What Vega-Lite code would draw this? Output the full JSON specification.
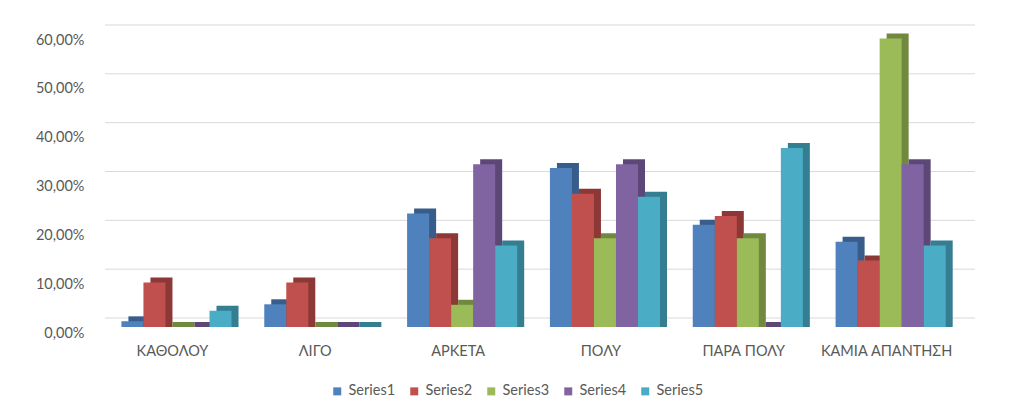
{
  "$schema": "https://vega.github.io/schema/vega-lite/v6.json",
  "width": 857,
  "height": 293,
  "autosize": {"type": "none"},
  "padding": {"left": 105, "top": 34, "right": 62, "bottom": 93},
  "background": "white",
  "config": {
    "view": {"stroke": null},
    "font": "Lato",
    "axis": {"labelFont": "Lato", "labelColor": "#595959", "labelFontSize": 14.5},
    "legend": {"labelFont": "Lato", "labelColor": "#595959", "labelFontSize": 14.5}
  },
  "datasets": {
    "bars": [
      {"cat": "ΚΑΘΟΛΟΥ", "series": "Series1", "v": 0.0116},
      {"cat": "ΛΙΓΟ", "series": "Series1", "v": 0.0465},
      {"cat": "ΑΡΚΕΤΑ", "series": "Series1", "v": 0.2326},
      {"cat": "ΠΟΛΥ", "series": "Series1", "v": 0.3256},
      {"cat": "ΠΑΡΑ ΠΟΛΥ", "series": "Series1", "v": 0.2093},
      {"cat": "ΚΑΜΙΑ ΑΠΑΝΤΗΣΗ", "series": "Series1", "v": 0.1744},
      {"cat": "ΚΑΘΟΛΟΥ", "series": "Series2", "v": 0.0909},
      {"cat": "ΛΙΓΟ", "series": "Series2", "v": 0.0909},
      {"cat": "ΑΡΚΕΤΑ", "series": "Series2", "v": 0.1818},
      {"cat": "ΠΟΛΥ", "series": "Series2", "v": 0.2727},
      {"cat": "ΠΑΡΑ ΠΟΛΥ", "series": "Series2", "v": 0.2273},
      {"cat": "ΚΑΜΙΑ ΑΠΑΝΤΗΣΗ", "series": "Series2", "v": 0.1364},
      {"cat": "ΚΑΘΟΛΟΥ", "series": "Series3", "v": 0},
      {"cat": "ΛΙΓΟ", "series": "Series3", "v": 0},
      {"cat": "ΑΡΚΕΤΑ", "series": "Series3", "v": 0.0455},
      {"cat": "ΠΟΛΥ", "series": "Series3", "v": 0.1818},
      {"cat": "ΠΑΡΑ ΠΟΛΥ", "series": "Series3", "v": 0.1818},
      {"cat": "ΚΑΜΙΑ ΑΠΑΝΤΗΣΗ", "series": "Series3", "v": 0.5909},
      {"cat": "ΚΑΘΟΛΟΥ", "series": "Series4", "v": 0},
      {"cat": "ΛΙΓΟ", "series": "Series4", "v": 0},
      {"cat": "ΑΡΚΕΤΑ", "series": "Series4", "v": 0.3333},
      {"cat": "ΠΟΛΥ", "series": "Series4", "v": 0.3333},
      {"cat": "ΠΑΡΑ ΠΟΛΥ", "series": "Series4", "v": 0},
      {"cat": "ΚΑΜΙΑ ΑΠΑΝΤΗΣΗ", "series": "Series4", "v": 0.3333},
      {"cat": "ΚΑΘΟΛΟΥ", "series": "Series5", "v": 0.0333},
      {"cat": "ΛΙΓΟ", "series": "Series5", "v": 0},
      {"cat": "ΑΡΚΕΤΑ", "series": "Series5", "v": 0.1667},
      {"cat": "ΠΟΛΥ", "series": "Series5", "v": 0.2667},
      {"cat": "ΠΑΡΑ ΠΟΛΥ", "series": "Series5", "v": 0.3667},
      {"cat": "ΚΑΜΙΑ ΑΠΑΝΤΗΣΗ", "series": "Series5", "v": 0.1667}
    ],
    "grid": [
      {"g": 0}, {"g": 0.1}, {"g": 0.2}, {"g": 0.3}, {"g": 0.4}, {"g": 0.5}, {"g": 0.6}
    ]
  },
  "layer": [
    {
      "data": {"name": "grid"},
      "mark": {"type": "rule", "color": "#d9d9d9", "strokeWidth": 1, "xOffset": 13, "x2Offset": 13, "yOffset": -9},
      "encoding": {
        "y": {"field": "g", "type": "quantitative", "scale": {"domain": [0, 0.6], "nice": false},
              "axis": {"title": null, "domain": false, "ticks": false, "tickSize": 0, "grid": false, "labelPadding": 21, "labelOffset": 6,
                       "values": [0, 0.1, 0.2, 0.3, 0.4, 0.5, 0.6],
                       "labelExpr": "replace(format(datum.value, '.2%'), '.', ',')"}}
      }
    },
    {
      "data": {"name": "bars"},
      "mark": {"type": "bar", "yOffset": -5, "y2Offset": 0},
      "encoding": {
        "x": {"field": "cat", "type": "nominal", "sort": null,
              "scale": {"paddingInner": 0.23, "paddingOuter": 0.115},
              "axis": {"title": null, "domain": false, "ticks": false, "tickSize": 0, "labelPadding": 17, "labelOffset": -4, "labelAngle": 0}},
        "xOffset": {"field": "series", "type": "nominal", "scale": {"range": [7, 117.1]}},
        "y": {"field": "v", "type": "quantitative", "stack": null, "scale": {"domain": [0, 0.6], "nice": false},
              "axis": {"title": null, "domain": false, "ticks": false, "tickSize": 0, "grid": false, "labelPadding": 21, "labelOffset": 6,
                       "values": [0, 0.1, 0.2, 0.3, 0.4, 0.5, 0.6],
                       "labelExpr": "replace(format(datum.value, '.2%'), '.', ',')"}},
        "color": {"field": "series", "type": "nominal", "legend": null,
                  "scale": {"domain": ["Series1", "Series2", "Series3", "Series4", "Series5"],
                            "range": ["#385D8A", "#8C3836", "#71893F", "#5C4776", "#357D91"]}}
      }
    },
    {
      "data": {"name": "bars"},
      "mark": {"type": "bar"},
      "encoding": {
        "x": {"field": "cat", "type": "nominal", "sort": null,
              "scale": {"paddingInner": 0.23, "paddingOuter": 0.115},
              "axis": {"title": null, "domain": false, "ticks": false, "tickSize": 0, "labelPadding": 17, "labelOffset": -4, "labelAngle": 0}},
        "xOffset": {"field": "series", "type": "nominal", "scale": {"range": [0, 110.1]}},
        "y": {"field": "v", "type": "quantitative", "stack": null, "scale": {"domain": [0, 0.6], "nice": false},
              "axis": {"title": null, "domain": false, "ticks": false, "tickSize": 0, "grid": false, "labelPadding": 21, "labelOffset": 6,
                       "values": [0, 0.1, 0.2, 0.3, 0.4, 0.5, 0.6],
                       "labelExpr": "replace(format(datum.value, '.2%'), '.', ',')"}},
        "color": {"field": "series", "type": "nominal",
                  "scale": {"domain": ["Series1", "Series2", "Series3", "Series4", "Series5"],
                            "range": ["#4F81BD", "#C0504D", "#9BBB59", "#8064A2", "#4BACC6"]},
                  "legend": {"title": null, "orient": "none", "direction": "horizontal", "legendX": 225, "legendY": 350,
                             "symbolType": "square", "symbolSize": 64, "symbolStrokeWidth": 0, "columnPadding": 11, "labelOffset": 4}}
      }
    }
  ],
  "resolve": {"scale": {"color": "independent", "xOffset": "independent"}}
}
